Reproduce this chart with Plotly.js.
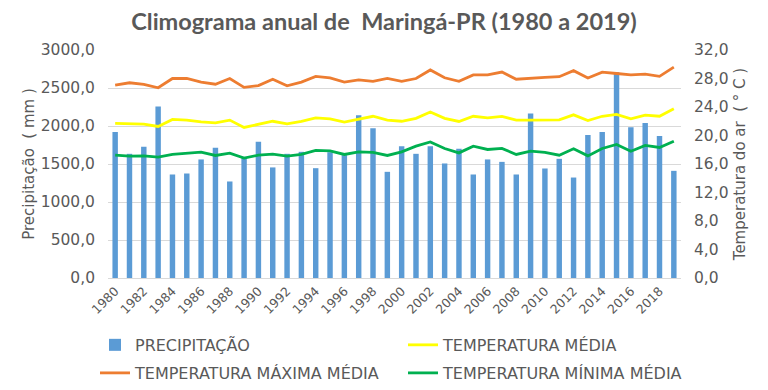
<!DOCTYPE html>
<html>
<head>
<meta charset="utf-8">
<script src="https://cdn.plot.ly/plotly-3.0.1.min.js"></script>
<style>html,body{margin:0;padding:0;background:#fff;}#chart{width:768px;height:390px;}</style>
</head>
<body>
<div id="chart"></div>
<script>
const years = [1980,1981,1982,1983,1984,1985,1986,1987,1988,1989,1990,1991,1992,1993,1994,1995,1996,1997,1998,1999,2000,2001,2002,2003,2004,2005,2006,2007,2008,2009,2010,2011,2012,2013,2014,2015,2016,2017,2018,2019];
const precipitacao = [1920,1634,1726,2258,1362,1375,1560,1713,1270,1594,1792,1455,1634,1660,1445,1655,1617,2140,1972,1397,1735,1634,1735,1507,1700,1362,1560,1528,1362,2166,1441,1568,1322,1880,1920,2706,1985,2038,1867,1410];
const tempMedia = [21.7,21.64,21.6,21.27,22.25,22.16,21.9,21.78,22.16,21.13,21.6,22.0,21.64,21.97,22.48,22.34,21.88,22.3,22.7,22.16,22.0,22.4,23.3,22.4,21.97,22.7,22.48,22.67,22.16,22.16,22.2,22.2,22.9,22.1,22.7,22.95,22.34,22.86,22.7,23.75];
const tempMax = [27.08,27.4,27.17,26.7,28.0,28.0,27.5,27.2,28.0,26.75,27.0,27.9,26.98,27.5,28.3,28.1,27.5,27.8,27.6,28.0,27.6,28.0,29.2,28.1,27.6,28.5,28.5,28.9,27.9,28.06,28.15,28.25,29.1,28.06,28.9,28.7,28.5,28.6,28.3,29.6];
const tempMin = [17.24,17.1,17.14,16.96,17.34,17.48,17.66,17.2,17.52,16.82,17.24,17.38,17.1,17.34,17.9,17.85,17.34,17.7,17.62,17.2,17.7,18.5,19.1,18.18,17.56,18.5,18.04,18.18,17.34,17.8,17.62,17.24,18.13,17.14,18.18,18.74,17.8,18.6,18.32,19.2];
const xTicks = [1980,1982,1984,1986,1988,1990,1992,1994,1996,1998,2000,2002,2004,2006,2008,2010,2012,2014,2016,2018];

const txt = '#595959';
const fontFam = 'DejaVu Sans, Verdana, sans-serif';

const traces = [
  {type:'bar', name:'PRECIPITAÇÃO', x:years, y:precipitacao, marker:{color:'#5B9BD5'}, yaxis:'y', legend:'legend'},
  {type:'scatter', mode:'lines', name:'TEMPERATURA MÉDIA', x:years, y:tempMedia, line:{color:'#FFFF00', width:2.8}, yaxis:'y2', legend:'legend'},
  {type:'scatter', mode:'lines', name:'TEMPERATURA MÁXIMA MÉDIA', x:years, y:tempMax, line:{color:'#ED7D31', width:2.8}, yaxis:'y2', legend:'legend2'},
  {type:'scatter', mode:'lines', name:'TEMPERATURA MÍNIMA MÉDIA', x:years, y:tempMin, line:{color:'#00B050', width:2.8}, yaxis:'y2', legend:'legend2'}
];

const legendBase = {orientation:'h', xref:'paper', yref:'paper', x:-0.0227, xanchor:'left', yanchor:'top',
  entrywidth:263, entrywidthmode:'pixels', font:{size:16, color:txt}, traceorder:'normal', bgcolor:'rgba(0,0,0,0)'};

const layout = {
  width:768, height:390,
  margin:{l:108, r:87, t:50, b:112, autoexpand:false},
  paper_bgcolor:'#fff', plot_bgcolor:'#fff',
  separators:',.',
  bargap:0.62,
  font:{family:fontFam, color:txt, size:13},
  title:{text:'Climograma anual de  Maringá-PR (1980 a 2019)', x:0.5, xref:'container', y:0.943, yref:'container', yanchor:'middle',
         font:{family:'Lato, Open Sans, sans-serif', size:23.5, color:txt, weight:'bold'}},
  xaxis:{range:[1979.5,2019.5], tickvals:xTicks, ticktext:xTicks.map(String), tickangle:-45, showgrid:false,
         showline:true, linecolor:'#D9D9D9', ticks:'', tickfont:{size:12.5, color:txt}, zeroline:false},
  yaxis:{range:[0,3000], dtick:500, tickformat:'.1f', gridcolor:'#D9D9D9', zeroline:false, ticks:'',
         tickfont:{size:15.5, color:txt}, ticklabelstandoff:12,
         title:{text:'Precipitação  ( mm )', font:{size:15, color:txt}, standoff:2}},
  yaxis2:{range:[0,32], dtick:4, tickformat:'.1f', overlaying:'y', side:'right', showgrid:false, zeroline:false, ticks:'',
          tickfont:{size:15.5, color:txt}, ticklabelstandoff:12,
          title:{text:'Temperatura do ar  ( ° C )', font:{size:15, color:txt}, standoff:6}},
  legend: Object.assign({}, legendBase, {y:-0.219}),
  legend2: Object.assign({}, legendBase, {y:-0.342}),
  showlegend:true
};

Plotly.newPlot('chart', traces, layout, {displayModeBar:false, staticPlot:true});
</script>
</body>
</html>
